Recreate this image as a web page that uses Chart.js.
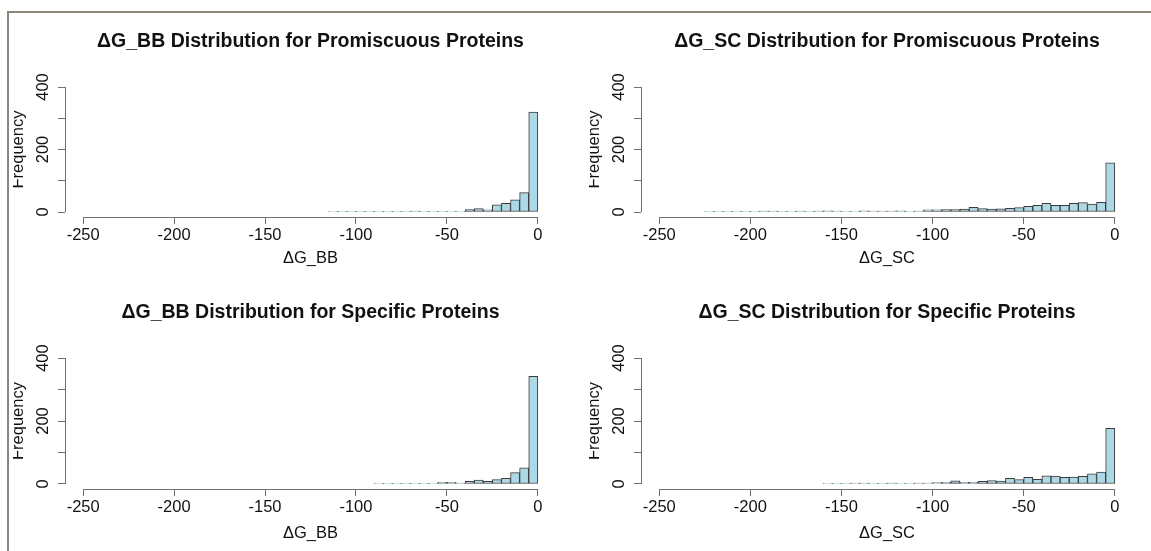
<!DOCTYPE html>
<html>
<head>
<meta charset="utf-8">
<script src="https://cdn.jsdelivr.net/npm/chart.js@4.4.1/dist/chart.umd.min.js"></script>
<style>
  html, body { margin: 0; padding: 0; background: #fff; }
  #wrap { position: relative; width: 1151px; height: 551px; overflow: hidden; }
  #wrap canvas { position: absolute; }
  #frame { position: absolute; left: 7px; top: 11px; width: 1160px; height: 560px;
           border-left: 2px solid #8b8679; border-top: 2px solid #8b8679; }
</style>
</head>
<body>
<div id="wrap">
  <canvas id="bbProm" width="562" height="275" style="left:13px;top:0"></canvas>
  <canvas id="scProm" width="562" height="275" style="left:589px;top:0"></canvas>
  <canvas id="bbSpec" width="562" height="280" style="left:13px;top:271px"></canvas>
  <canvas id="scSpec" width="562" height="280" style="left:589px;top:271px"></canvas>
  <div id="frame"></div>
</div>
<script>
// histogram counts, one per 5-unit bin, starting at the first bin edge
const BIN_WIDTH = 5;

const bbPromStart = -115;
const bbPromCounts = [1, 1, 1, 1, 1, 2, 1, 1, 1, 3, 1, 1, 1, 1, 2, 8, 11, 7, 23, 28, 39, 62, 320];

const scPromStart = -225;
const scPromCounts = [2, 1, 1, 2, 2, 2, 3, 3, 2, 2, 3, 2, 3, 4, 3, 2, 2, 4, 3, 3, 3, 4, 1, 3,
                      7, 7, 8, 8, 9, 15, 11, 9, 10, 12, 14, 18, 21, 28, 21, 21, 28, 30, 25, 31, 157];

const bbSpecStart = -90;
const bbSpecCounts = [1, 1, 1, 1, 1, 1, 2, 5, 5, 3, 8, 12, 8, 14, 18, 36, 51, 342];

const scSpecStart = -160;
const scSpecCounts = [2, 2, 2, 3, 3, 2, 2, 3, 2, 2, 3, 3, 4, 5, 10, 5, 5, 8, 11, 9,
                      18, 14, 21, 15, 26, 25, 21, 22, 24, 32, 38, 177];

const xTicks = [-250, -200, -150, -100, -50, 0];
const yTicks = [0, 100, 200, 300, 400];
const xRange = [-260, 10];
const yRange = [-16, 416];

const FONT = 'Liberation Sans, Arial, Helvetica, sans-serif';
const AXIS_COLOR = '#6f6f6f';
const TEXT_COLOR = '#111';
const BAR_FILL = '#add8e6';
const BAR_EDGE = '#3b3b3b';

// R draws its axis lines only from the first to the last tick
const rAxisLines = {
  id: 'rAxisLines',
  afterDraw(chart) {
    const { ctx, chartArea, scales: { x, y } } = chart;
    ctx.save();
    ctx.strokeStyle = AXIS_COLOR;
    ctx.lineWidth = 1;
    ctx.beginPath();
    const yb = Math.round(chartArea.bottom) + 0.5;
    ctx.moveTo(x.getPixelForValue(xTicks[0]), yb);
    ctx.lineTo(x.getPixelForValue(xTicks[xTicks.length - 1]), yb);
    const xl = Math.round(chartArea.left) + 0.5;
    ctx.moveTo(xl, y.getPixelForValue(yTicks[0]));
    ctx.lineTo(xl, y.getPixelForValue(yTicks[yTicks.length - 1]));
    ctx.stroke();
    ctx.restore();
  }
};

function makeHist(id, title, xLabel, firstEdge, counts, padRight, xAxisHeight, xTitlePad) {
  const points = counts.map((n, i) => ({ x: firstEdge + BIN_WIDTH * (i + 0.5), y: n }));
  const tickFont = { family: FONT, size: 16.5 };
  const grid = { drawOnChartArea: false, drawTicks: true, tickLength: 7, color: AXIS_COLOR, lineWidth: 1, offset: false };

  return new Chart(document.getElementById(id), {
    type: 'bar',
    data: {
      datasets: [{
        data: points,
        backgroundColor: BAR_FILL,
        borderColor: BAR_EDGE,
        borderWidth: 1,
        borderSkipped: false,
        barPercentage: 1,
        categoryPercentage: 1
      }]
    },
    options: {
      responsive: false,
      animation: false,
      devicePixelRatio: 1,
      layout: { padding: { left: 0, right: padRight, top: 0, bottom: 0 } },
      plugins: {
        legend: { display: false },
        tooltip: { enabled: false },
        title: {
          display: true,
          text: title,
          fullSize: false,
          color: TEXT_COLOR,
          font: { family: FONT, size: 19.5, weight: 'bold' },
          padding: { top: 30, bottom: 28.6 }
        }
      },
      scales: {
        x: {
          type: 'linear',
          offset: false,
          min: xRange[0],
          max: xRange[1],
          afterBuildTicks: s => { s.ticks = xTicks.map(v => ({ value: v })); },
          afterFit: s => { s.height = xAxisHeight; },
          ticks: { autoSkip: false, maxRotation: 0, padding: 2, font: tickFont, color: TEXT_COLOR },
          grid: grid,
          border: { display: false },
          title: { display: true, text: xLabel, color: TEXT_COLOR, font: tickFont, padding: { top: 0, bottom: xTitlePad } }
        },
        y: {
          min: yRange[0],
          max: yRange[1],
          afterBuildTicks: s => { s.ticks = yTicks.map(v => ({ value: v })); },
          afterFit: s => { s.width = 52; },
          ticks: {
            minRotation: 90, maxRotation: 90, crossAlign: 'center', padding: 1,
            font: tickFont, color: TEXT_COLOR,
            callback: v => (v % 200 === 0 ? String(v) : '')
          },
          grid: grid,
          border: { display: false },
          // the left edge of each panel cuts into the "F", as in the original
          title: { display: true, text: 'Frequency', color: TEXT_COLOR, font: tickFont, padding: { top: -4.9, bottom: 0 } }
        }
      }
    },
    plugins: [rAxisLines]
  });
}

makeHist('bbProm', 'ΔG_BB Distribution for Promiscuous Proteins', 'ΔG_BB', bbPromStart, bbPromCounts, 19, 58, 7);
makeHist('scProm', 'ΔG_SC Distribution for Promiscuous Proteins', 'ΔG_SC', scPromStart, scPromCounts, 18, 58, 7);
makeHist('bbSpec', 'ΔG_BB Distribution for Specific Proteins', 'ΔG_BB', bbSpecStart, bbSpecCounts, 19, 62, 8);
makeHist('scSpec', 'ΔG_SC Distribution for Specific Proteins', 'ΔG_SC', scSpecStart, scSpecCounts, 18, 62, 8);
</script>
</body>
</html>
